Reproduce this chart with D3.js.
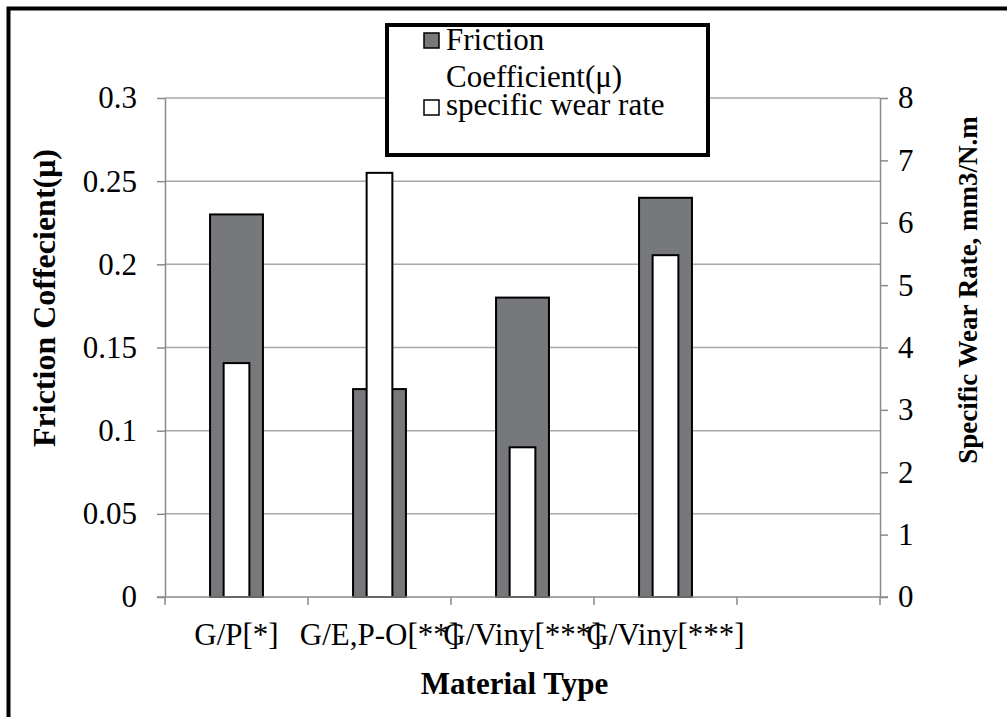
<!DOCTYPE html>
<html><head><meta charset="utf-8">
<script src="https://cdn.jsdelivr.net/npm/d3@7"></script>
<style>
body{margin:0;background:#fff}
text{font-family:"Liberation Serif","Times New Roman",serif;fill:#000}
</style>
</head><body><svg id="chart" width="1007" height="717"></svg>
<script>
// Material categories (last slot is left empty on the axis)
const categories = ["G/P[*]", "G/E,P-O[**]", "G/Viny[***]", "G/Viny[***]", ""];
// Friction coefficient (left axis)
const frictionCoefficient = [0.23, 0.125, 0.18, 0.24];
// Specific wear rate, mm3/N.m (right axis)
const specificWearRate = [3.75, 6.8, 2.4, 5.48];
const leftTicks = [0, 0.05, 0.1, 0.15, 0.2, 0.25, 0.3];
const rightTicks = [0, 1, 2, 3, 4, 5, 6, 7, 8];
const legendLabels = [["Friction", "Coefficient(\u03bc)"], ["specific wear rate"]];

const svg = d3.select("#chart");
const plot = {left: 165, right: 880, top: 98, bottom: 597};
const axisColor = "#8a8a8a", gridColor = "#a8a8a8", barGray = "#77787b";

// outer frame
svg.append("path")
  .attr("d", "M8.5,717 V8.5 H1007")
  .attr("fill", "none").attr("stroke", "#000").attr("stroke-width", 4);

const x = d3.scaleBand().domain(d3.range(categories.length))
  .range([plot.left, plot.right]).padding(0);
const yL = d3.scaleLinear().domain([0, 0.3]).range([plot.bottom, plot.top]);
const yR = d3.scaleLinear().domain([0, 8]).range([plot.bottom, plot.top]);

// horizontal gridlines at left-axis ticks
svg.append("g").selectAll("line").data(leftTicks.filter(d => d > 0)).join("line")
  .attr("x1", plot.left).attr("x2", plot.right)
  .attr("y1", d => yL(d)).attr("y2", d => yL(d))
  .attr("stroke", gridColor).attr("stroke-width", 1.5);

const wideW = x.bandwidth() * 0.37, narrowW = x.bandwidth() * 0.18;
const idx = d3.range(frictionCoefficient.length);

// friction coefficient bars
svg.append("g").selectAll("rect").data(idx).join("rect")
  .attr("x", i => x(i) + (x.bandwidth() - wideW) / 2)
  .attr("width", wideW)
  .attr("y", i => yL(frictionCoefficient[i]))
  .attr("height", i => yL(0) - yL(frictionCoefficient[i]))
  .attr("fill", barGray).attr("stroke", "#000").attr("stroke-width", 2);

// specific wear rate bars
svg.append("g").selectAll("rect").data(idx).join("rect")
  .attr("x", i => x(i) + (x.bandwidth() - narrowW) / 2)
  .attr("width", narrowW)
  .attr("y", i => yR(specificWearRate[i]))
  .attr("height", i => yR(0) - yR(specificWearRate[i]))
  .attr("fill", "#fff").attr("stroke", "#000").attr("stroke-width", 2);

function styleAxis(g) {
  g.attr("font-family", null);
  g.selectAll("path,line").attr("stroke", axisColor).attr("stroke-width", 1.5);
  g.selectAll("text").attr("font-size", 31).attr("fill", "#000");
}

// left axis
svg.append("g").attr("transform", `translate(${plot.left},0)`)
  .call(d3.axisLeft(yL).tickValues(leftTicks).tickSize(8).tickSizeOuter(0)
    .tickPadding(20).tickFormat(d => String(d)))
  .call(styleAxis);

// right axis
svg.append("g").attr("transform", `translate(${plot.right},0)`)
  .call(d3.axisRight(yR).tickValues(rightTicks).tickSize(8).tickSizeOuter(0)
    .tickPadding(10).tickFormat(d3.format("d")))
  .call(styleAxis);

// category axis: tick marks at band boundaries, labels at band centres
const xg = svg.append("g").attr("transform", `translate(0,${plot.bottom})`);
xg.append("line").attr("x1", plot.left - 8).attr("x2", plot.right + 8)
  .attr("y1", 0).attr("y2", 0);
xg.selectAll("line.b").data(d3.range(categories.length + 1)).join("line")
  .attr("class", "b")
  .attr("x1", i => plot.left + i * x.step()).attr("x2", i => plot.left + i * x.step())
  .attr("y1", 0).attr("y2", 8);
xg.selectAll("text").data(categories).join("text")
  .attr("x", (d, i) => x(i) + x.bandwidth() / 2).attr("y", 48)
  .attr("text-anchor", "middle").text(d => d);
xg.call(styleAxis);

// axis titles
svg.append("text").attr("x", (plot.left + plot.right) / 2 - 8).attr("y", 694)
  .attr("text-anchor", "middle").attr("font-weight", "bold").attr("font-size", 31)
  .text("Material Type");
svg.append("text").attr("transform", "translate(55,298) rotate(-90)")
  .attr("text-anchor", "middle").attr("font-weight", "bold").attr("font-size", 32)
  .text("Friction Coffecient(\u03bc)");
svg.append("text").attr("transform", "translate(977,290) rotate(-90)")
  .attr("text-anchor", "middle").attr("font-weight", "bold").attr("font-size", 27)
  .text("Specific Wear Rate, mm3/N.m");

// legend
const lg = svg.append("g");
lg.append("rect").attr("x", 387).attr("y", 25).attr("width", 321).attr("height", 130)
  .attr("fill", "#fff").attr("stroke", "#000").attr("stroke-width", 4);
const swatch = [barGray, "#fff"];
const rows = [{sy: 33, lines: [50, 87]}, {sy: 100, lines: [115]}];
rows.forEach((r, k) => {
  lg.append("rect").attr("x", 424).attr("y", r.sy).attr("width", 15).attr("height", 15)
    .attr("fill", swatch[k]).attr("stroke", "#000").attr("stroke-width", 1.5);
  legendLabels[k].forEach((t, j) => {
    lg.append("text").attr("x", 446).attr("y", r.lines[j]).attr("font-size", 31).text(t);
  });
});
</script></body></html>
